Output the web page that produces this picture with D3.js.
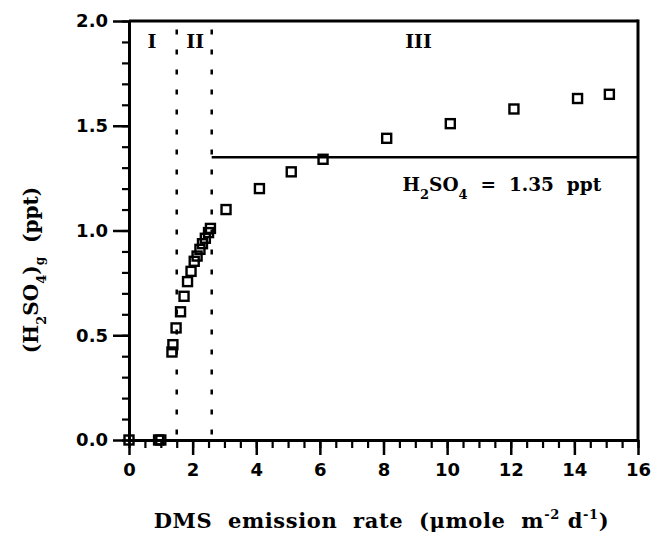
<!DOCTYPE html>
<html>
<head>
<meta charset="utf-8">
<script src="https://cdn.jsdelivr.net/npm/d3@7"></script>
<style>
  body { margin: 0; background: #fff; }
  text { fill: #000; }
</style>
</head>
<body>
<div id="chart"></div>
<script>
// DMS emission rate (umole m-2 d-1) vs gas phase H2SO4 (ppt)
const emissionRate = [0, 0.93, 1.0, 1.35, 1.38, 1.48, 1.62, 1.73, 1.84, 1.95, 2.05, 2.14, 2.23, 2.31, 2.40, 2.50, 2.56,
  3.05, 4.1, 5.1, 6.1, 8.1, 10.1, 12.1, 14.1, 15.1]
const h2so4 = [0, 0, 0, 0.42, 0.455, 0.535, 0.612, 0.686, 0.756, 0.805, 0.853, 0.878, 0.91, 0.937, 0.963, 0.99, 1.01,
  1.10, 1.20, 1.28, 1.34, 1.44, 1.51, 1.58, 1.63, 1.65]

const xTicks = [0, 2, 4, 6, 8, 10, 12, 14, 16]
const yTicks = [0, 0.5, 1.0, 1.5, 2.0]
const regionNames = ["I", "II", "III"]
const regionCenters = [0.72, 2.08, 9.1]
const regionBounds = [1.5, 2.6]
const plateau = 1.35

var width = 652
var height = 536
var margin = { top: 21, right: 14, bottom: 96, left: 129 }

var svg = d3.select("#chart")
  .append("svg")
  .attr("width", width)
  .attr("height", height)

var x = d3.scaleLinear().domain([0, 16]).range([margin.left, width - margin.right])
var y = d3.scaleLinear().domain([0, 2]).range([height - margin.bottom, margin.top])

var sans = "'DejaVu Sans', sans-serif"
var serif = "'DejaVu Serif', serif"

// minor ticks first, majors on top
svg.append("g")
  .attr("transform", "translate(0," + y(0) + ")")
  .call(d3.axisBottom(x).tickValues(d3.range(0, 16.01, 0.5)).tickSize(8).tickFormat(""))
  .call(g => g.select(".domain").remove())
  .call(g => g.selectAll("line").attr("stroke-width", 2.2))

svg.append("g")
  .attr("transform", "translate(" + x(0) + ",0)")
  .call(d3.axisLeft(y).tickValues(d3.range(0, 2.001, 0.1)).tickSize(7).tickFormat(""))
  .call(g => g.select(".domain").remove())
  .call(g => g.selectAll("line").attr("stroke-width", 2.2))

var xAxis = svg.append("g")
  .attr("transform", "translate(0," + y(0) + ")")
  .call(d3.axisBottom(x).tickValues(xTicks).tickSize(15).tickSizeOuter(0).tickPadding(8).tickFormat(d3.format("d")))
xAxis.select(".domain").attr("stroke-width", 3)
xAxis.selectAll("line").attr("stroke-width", 2.5)
xAxis.selectAll("text").attr("font-family", sans).attr("font-weight", "bold").attr("font-size", 18)

var yAxis = svg.append("g")
  .attr("transform", "translate(" + x(0) + ",0)")
  .call(d3.axisLeft(y).tickValues(yTicks).tickSize(16).tickSizeOuter(0).tickPadding(5).tickFormat(d3.format(".1f")))
yAxis.select(".domain").attr("stroke-width", 3)
yAxis.selectAll("line").attr("stroke-width", 2.5)
yAxis.selectAll("text").attr("font-family", sans).attr("font-weight", "bold").attr("font-size", 18)

// frame top and right
svg.append("line")
  .attr("x1", x(0)).attr("x2", x(16)).attr("y1", y(2)).attr("y2", y(2))
  .attr("stroke", "#000").attr("stroke-width", 3)
svg.append("line")
  .attr("x1", x(16)).attr("x2", x(16)).attr("y1", y(2) - 1.5).attr("y2", y(0))
  .attr("stroke", "#000").attr("stroke-width", 3)

// region boundaries
svg.selectAll(".bound")
  .data(regionBounds)
  .enter()
  .append("line")
  .attr("class", "bound")
  .attr("x1", d => x(d)).attr("x2", d => x(d))
  .attr("y1", y(1.96)).attr("y2", y(-0.03))
  .attr("stroke", "#000").attr("stroke-width", 2.5)
  .attr("stroke-dasharray", "5,15")

// plateau line
svg.append("line")
  .attr("x1", x(regionBounds[1])).attr("x2", x(16))
  .attr("y1", y(plateau)).attr("y2", y(plateau))
  .attr("stroke", "#000").attr("stroke-width", 2.5)

svg.selectAll(".region")
  .data(regionNames)
  .enter()
  .append("text")
  .attr("class", "region")
  .attr("x", (d, i) => x(regionCenters[i]))
  .attr("y", y(1.87))
  .attr("text-anchor", "middle")
  .attr("font-family", serif).attr("font-weight", "bold").attr("font-size", 19)
  .text(d => d)

// plateau label
var lab = svg.append("text")
  .attr("x", x(8.6)).attr("y", y(1.19))
  .attr("font-family", serif).attr("font-weight", "bold").attr("font-size", 18.5)
  .style("white-space", "pre")
lab.append("tspan").text("H")
lab.append("tspan").attr("dy", 8).attr("font-size", 13).text("2")
lab.append("tspan").attr("dy", -8).text("SO")
lab.append("tspan").attr("dy", 8).attr("font-size", 13).text("4")
lab.append("tspan").attr("dy", -8).text("  =  " + plateau.toFixed(2) + "  ppt")

// data squares
svg.selectAll("rect.pt")
  .data(emissionRate)
  .enter()
  .append("rect")
  .attr("class", "pt")
  .attr("x", d => x(d) - 4.5)
  .attr("y", (d, i) => y(h2so4[i]) - 4.5)
  .attr("width", 9).attr("height", 9)
  .attr("fill", "none")
  .attr("stroke", "#000")
  .attr("stroke-width", 2.4)

// axis titles
var xt = svg.append("text")
  .attr("x", (x(0) + x(16)) / 2 - 2).attr("y", 528)
  .attr("text-anchor", "middle")
  .attr("font-family", serif).attr("font-weight", "bold").attr("font-size", 21)
  .attr("letter-spacing", 0.6)
  .style("white-space", "pre")
xt.append("tspan").text("DMS  emission  rate  (\u03bcmole  m")
xt.append("tspan").attr("dy", -9).attr("font-size", 13).text("-2")
xt.append("tspan").attr("dy", 9).text(" d")
xt.append("tspan").attr("dy", -9).attr("font-size", 13).text("-1")
xt.append("tspan").attr("dy", 9).text(")")

var yt = svg.append("text")
  .attr("transform", "translate(38,270) rotate(-90)")
  .attr("text-anchor", "middle")
  .attr("font-family", serif).attr("font-weight", "bold").attr("font-size", 20)
  .style("white-space", "pre")
yt.append("tspan").text("(H")
yt.append("tspan").attr("dy", 8).attr("font-size", 13).text("2")
yt.append("tspan").attr("dy", -8).text("SO")
yt.append("tspan").attr("dy", 8).attr("font-size", 13).text("4")
yt.append("tspan").attr("dy", -8).text(")")
yt.append("tspan").attr("dy", 6).attr("font-size", 12).text("g")
yt.append("tspan").attr("dy", -6).text("  (ppt)")
</script>
</body>
</html>
